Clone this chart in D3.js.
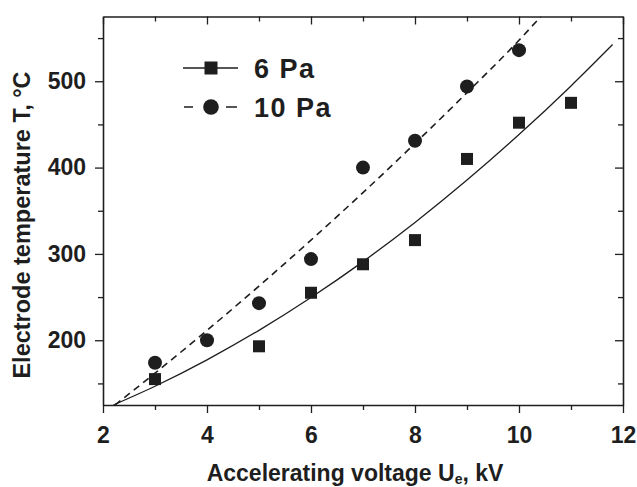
<!DOCTYPE html>
<html>
<head>
<meta charset="utf-8">
<script src="https://cdn.jsdelivr.net/npm/d3@7/dist/d3.min.js"></script>
<style>
  html, body { margin: 0; padding: 0; background: #fff; }
  svg { display: block; }
  text { font-family: "Liberation Sans", Arial, Helvetica, sans-serif; font-weight: bold; fill: #1e1e1e; }
</style>
</head>
<body>
<svg id="chart" width="637" height="487"></svg>
<script>
// Measured electrode temperature (°C) against accelerating voltage (kV)
const voltage6Pa = [3, 5, 6, 7, 8, 9, 10, 11];
const temp6Pa    = [155, 193, 255, 288, 316, 410, 452, 475];
const voltage10Pa = [3, 4, 5, 6, 7, 8, 9, 10];
const temp10Pa    = [174, 200, 243, 294, 400, 431, 494, 536];

// Fitted trend curves, sampled along the voltage axis
const fit6PaV = [2.2, 3, 4, 5, 6, 7, 8, 9, 10, 11, 11.8];
const fit6PaT = [125, 146.7, 177.3, 211.5, 249.5, 291.1, 336.4, 385.5, 438.2, 494.6, 542.5];
const fit10PaV = [2.23, 3, 4, 5, 6, 7, 8, 9, 10, 10.42];
const fit10PaT = [125, 161.9, 211.4, 262.8, 316, 371, 428, 486.8, 547.5, 575];

// Axis ticks
const xTicks = [2, 4, 6, 8, 10, 12];
const xMinorTicks = [3, 5, 7, 9, 11];
const yTicks = [200, 300, 400, 500];
const yMinorTicks = [150, 250, 350, 450, 550];

const legendLabels = ["6 Pa", "10 Pa"];

const ink = "#1e1e1e";
const svg = d3.select("#chart");
const margin = { left: 103, right: 14, top: 16.5, bottom: 82 };
const W = 637, H = 487;
const x = d3.scaleLinear().domain([2, 12]).range([margin.left, W - margin.right]);
const y = d3.scaleLinear().domain([125, 575]).range([H - margin.bottom, margin.top]);

svg.append("defs").append("clipPath").attr("id", "plot-clip")
  .append("rect")
  .attr("x", x(2)).attr("y", y(575))
  .attr("width", x(12) - x(2)).attr("height", y(125) - y(575));

// Axes: bottom and left with outward ticks, top and right with inward ticks
function styleAxis(g) {
  g.selectAll("path").attr("stroke", ink).attr("stroke-width", 1.6);
  g.selectAll("line").attr("stroke", ink).attr("stroke-width", 1.3);
  g.selectAll("text").style("font-size", "23px").attr("fill", ink);
}
function minorAxis(axis, tx, ty, values) {
  svg.append("g").attr("transform", `translate(${tx},${ty})`)
    .call(axis.tickValues(values).tickSize(5).tickFormat(""))
    .call(g => g.select("path").remove()).call(styleAxis);
}

const axisB = svg.append("g").attr("transform", `translate(0,${y(125)})`);
axisB.call(d3.axisBottom(x).tickValues(xTicks).tickSize(8).tickSizeOuter(0).tickPadding(14).tickFormat(d3.format("d")));
axisB.call(styleAxis);
minorAxis(d3.axisBottom(x), 0, y(125), xMinorTicks);

const axisL = svg.append("g").attr("transform", `translate(${x(2)},0)`);
axisL.call(d3.axisLeft(y).tickValues(yTicks).tickSize(8).tickSizeOuter(0).tickPadding(9).tickFormat(d3.format("d")));
axisL.call(styleAxis);
minorAxis(d3.axisLeft(y), x(2), 0, yMinorTicks);

const axisT = svg.append("g").attr("transform", `translate(0,${y(575)})`);
axisT.call(d3.axisBottom(x).tickValues(xTicks).tickSize(8).tickSizeOuter(0).tickFormat(""));
axisT.call(styleAxis);
minorAxis(d3.axisBottom(x), 0, y(575), xMinorTicks);

const axisR = svg.append("g").attr("transform", `translate(${x(12)},0)`);
axisR.call(d3.axisLeft(y).tickValues(yTicks).tickSize(8).tickSizeOuter(0).tickFormat(""));
axisR.call(styleAxis);
minorAxis(d3.axisLeft(y), x(12), 0, yMinorTicks);

// Fitted curves
const line = d3.line().x(d => x(d[0])).y(d => y(d[1])).curve(d3.curveMonotoneX);
const plot = svg.append("g").attr("clip-path", "url(#plot-clip)");
plot.append("path")
  .datum(d3.zip(fit6PaV, fit6PaT))
  .attr("d", line).attr("fill", "none").attr("stroke", ink).attr("stroke-width", 1.3);
plot.append("path")
  .datum(d3.zip(fit10PaV, fit10PaT))
  .attr("d", line).attr("fill", "none").attr("stroke", ink).attr("stroke-width", 1.6)
  .attr("stroke-dasharray", "7,5");

// Markers
const sq = 12;
svg.append("g").selectAll("rect").data(d3.zip(voltage6Pa, temp6Pa)).join("rect")
  .attr("x", d => x(d[0]) - sq / 2).attr("y", d => y(d[1]) - sq / 2)
  .attr("width", sq).attr("height", sq).attr("fill", ink);
svg.append("g").selectAll("circle").data(d3.zip(voltage10Pa, temp10Pa)).join("circle")
  .attr("cx", d => x(d[0])).attr("cy", d => y(d[1])).attr("r", 7).attr("fill", ink);

// Legend
const lg = svg.append("g");
lg.append("line").attr("x1", 183).attr("x2", 238).attr("y1", 68).attr("y2", 68)
  .attr("stroke", ink).attr("stroke-width", 1.3);
lg.append("rect").attr("x", 211 - 6.5).attr("y", 68 - 6.5).attr("width", 13).attr("height", 13).attr("fill", ink);
lg.append("text").attr("x", 254).attr("y", 78).style("font-size", "27px").style("letter-spacing", "1.5px").text(legendLabels[0]);
lg.append("line").attr("x1", 184).attr("x2", 237).attr("y1", 107).attr("y2", 107)
  .attr("stroke", ink).attr("stroke-width", 1.6).attr("stroke-dasharray", "9,33,11");
lg.append("circle").attr("cx", 211).attr("cy", 107).attr("r", 7.8).attr("fill", ink);
lg.append("text").attr("x", 254).attr("y", 117).style("font-size", "27px").style("letter-spacing", "1.5px").text(legendLabels[1]);

// Axis titles
const xt = svg.append("text").attr("x", 355).attr("y", 481).attr("text-anchor", "middle")
  .style("font-size", "23px");
xt.append("tspan").text("Accelerating voltage U");
xt.append("tspan").attr("dy", 3).style("font-size", "14px").text("e");
xt.append("tspan").attr("dy", -3).text(", kV");

svg.append("text")
  .attr("transform", "translate(30,225) rotate(-90)")
  .attr("text-anchor", "middle")
  .style("font-size", "23.5px")
  .text("Electrode temperature T, °C");
</script>
</body>
</html>
